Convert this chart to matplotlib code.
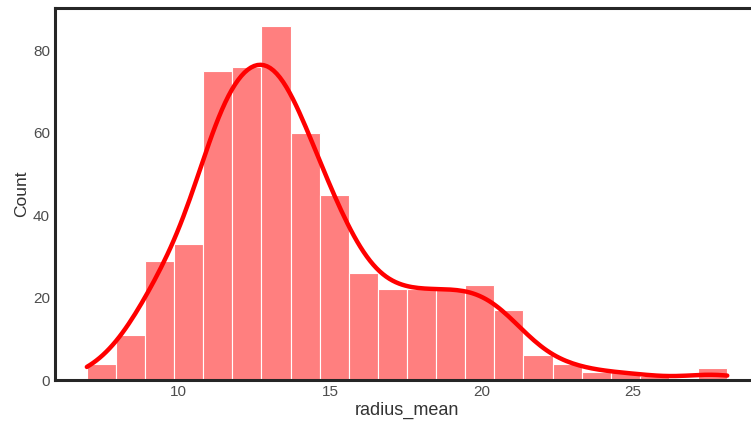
import numpy as np
import pandas as pd
import matplotlib
matplotlib.use("Agg")
import matplotlib.pyplot as plt
import seaborn as sns

# radius_mean, 22 gleich breite Klassen zwischen Minimum und Maximum
bin_edges = np.linspace(6.981, 28.11, 23)
counts = [4, 11, 29, 33, 75, 76, 86, 60, 45, 26, 22,
          22, 22, 23, 17, 6, 4, 2, 2, 1, 0, 3]
bin_centers = (bin_edges[:-1] + bin_edges[1:]) / 2

df = pd.DataFrame({"radius_mean": bin_centers, "n": counts})

sns.set_style("white")
plt.rcParams["font.family"] = ["Liberation Sans", "DejaVu Sans"]

fig = plt.figure(figsize=(7.51, 4.21), dpi=100)
ax = fig.add_axes([0.073, 0.097, 0.938, 0.884])

# Histogramm + KDE (Gewichte = Anzahl pro Klasse)
sns.histplot(data=df, x="radius_mean", weights="n", bins=list(bin_edges),
             kde=True, color="red", alpha=0.5, edgecolor="white",
             linewidth=0.8,
             kde_kws=dict(bw_adjust=0.4, cut=1,
                          clip=(bin_edges[0], bin_edges[-1])),
             line_kws=dict(linewidth=3.2), ax=ax)

ax.set_xlabel("radius_mean", fontsize=13, color=".2", labelpad=2)
ax.set_ylabel("Count", fontsize=12.5, color=".2", labelpad=3)
ax.tick_params(labelsize=11, labelcolor=".3", length=0)
ax.set_xticks([10, 15, 20, 25])
ax.set_yticks([0, 20, 40, 60, 80])

for s in ax.spines.values():
    s.set_linewidth(2.2)
    s.set_color(".15")

fig.savefig("out.png", dpi=100)
